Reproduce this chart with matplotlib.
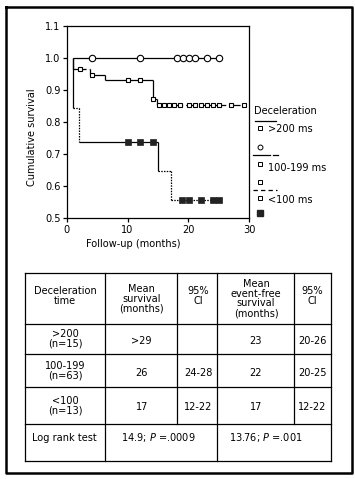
import matplotlib
matplotlib.use("Agg")
import matplotlib.pyplot as plt
import matplotlib.font_manager as fm

# pick a narrow sans if one is installed
fonts = [(f.name, f.stretch) for f in fm.fontManager.ttflist]
if any(n == 'Liberation Sans Narrow' for n, s in fonts):
    plt.rcParams['font.family'] = ['Liberation Sans Narrow', 'DejaVu Sans']
    FS = 8.5
elif any(n == 'DejaVu Sans' and 'condensed' in str(s) for n, s in fonts):
    plt.rcParams['font.family'] = ['DejaVu Sans']
    plt.rcParams['font.stretch'] = 'condensed'
    FS = 7.8
else:
    plt.rcParams['font.family'] = ['Liberation Sans', 'DejaVu Sans']
    FS = 8.0
plt.rcParams['mathtext.fontset'] = 'custom'
plt.rcParams['mathtext.rm'] = plt.rcParams['font.family'][0]
plt.rcParams['mathtext.it'] = plt.rcParams['font.family'][0] + ':italic'

# Kaplan-Meier step curves: step times (months) and survival after each step
gt200_t = [1.0, 25.0]
gt200_s = [1.0, 1.0]
mid_t = [1.0, 1.0, 3.9, 6.3, 14.1, 14.8, 29.1]
mid_s = [1.0, 0.966, 0.948, 0.931, 0.873, 0.853, 0.853]
low_t = [1.0, 1.0, 2.0, 15.0, 17.2, 25.2]
low_s = [1.0, 0.843, 0.739, 0.649, 0.557, 0.557]

# censored observations (months)
gt200_cens = [4.1, 12.1, 18.1, 19.1, 20.1, 21.0, 23.0, 25.0]
mid_cens = [2.2, 4.1, 10.0, 12.1, 14.1, 15.2, 16.0, 16.8, 17.7, 18.6,
            20.1, 21.1, 22.0, 23.0, 24.0, 25.0, 27.0, 29.1]
low_cens = [10.0, 12.1, 14.1, 19.0, 20.1, 22.0, 24.0, 25.0]

legend_title = "Deceleration"
legend_labels = [">200 ms", "100-199 ms", "<100 ms"]

x_ticks = [0, 10, 20, 30]
y_ticks = [0.5, 0.6, 0.7, 0.8, 0.9, 1.0, 1.1]

# table contents
table_header = ["Deceleration\ntime", "Mean\nsurvival\n(months)", "95%\nCI",
                "Mean\nevent-free\nsurvival\n(months)", "95%\nCI"]
table_groups = [">200\n(n=15)", "100-199\n(n=63)", "<100\n(n=13)"]
mean_survival = [">29", "26", "17"]
ci_survival = ["", "24-28", "12-22"]
mean_event_free = ["23", "22", "17"]
ci_event_free = ["20-26", "20-25", "12-22"]
logrank_label = "Log rank test"
logrank_survival = "14.9; $P$ =.0009"
logrank_event_free = "13.76; $P$ =.001"

# line styles per segment (horizontal, vertical alternating)
SOLID = '-'
DOT = (0, (1.2, 1.0))
DASH = (0, (4, 2.5))
gt200_styles = [SOLID, SOLID]
mid_styles = [SOLID, SOLID, DASH, SOLID, SOLID, SOLID, SOLID, SOLID,
              SOLID, SOLID, (0, (9, 2.5)), SOLID]
low_styles = [SOLID, SOLID, DOT, DOT, SOLID, SOLID, DOT, DOT, DOT, DOT]


def step_value(t, s, x):
    idx = max(i for i in range(len(t)) if t[i] <= x)
    return s[idx]


def draw_steps(ax, t, s, styles):
    k = 0
    for i in range(1, len(t)):
        ax.plot([t[i - 1], t[i]], [s[i - 1], s[i - 1]], color='black',
                lw=0.9, linestyle=styles[k], solid_capstyle='butt')
        ax.plot([t[i], t[i]], [s[i - 1], s[i]], color='black',
                lw=0.9, linestyle=styles[k + 1], solid_capstyle='butt')
        k += 2


W, H = 355, 479
fig = plt.figure(figsize=(W / 100, H / 100), dpi=100)
fig.patch.set_facecolor('white')

ax = fig.add_axes([66.7 / W, 1 - 218.3 / H, 182.6 / W, 192.3 / H])
draw_steps(ax, gt200_t, gt200_s, gt200_styles)
draw_steps(ax, mid_t, mid_s, mid_styles)
draw_steps(ax, low_t, low_s, low_styles)

ax.plot(gt200_cens, [step_value(gt200_t, gt200_s, x) for x in gt200_cens],
        'o', ms=4.6, mfc='white', mec='black', mew=0.8, zorder=5)
ax.plot(mid_cens, [step_value(mid_t, mid_s, x) for x in mid_cens],
        's', ms=3.2, mfc='white', mec='black', mew=0.8, zorder=5)
ax.plot(low_cens, [step_value(low_t, low_s, x) for x in low_cens],
        's', ms=4, mfc='#222222', mec='#222222', mew=0.5, zorder=5)

ax.set_xlim(0, 30)
ax.set_ylim(0.5, 1.1)
ax.set_xticks(x_ticks)
ax.set_yticks(y_ticks)
ax.set_yticklabels([f"{v:.1f}" for v in y_ticks])
ax.tick_params(direction='out', length=3, width=0.9, labelsize=FS, pad=1.5)
for sp in ax.spines.values():
    sp.set_linewidth(0.9)
ax.set_ylabel("Cumulative survival", fontsize=FS)
ax.yaxis.set_label_coords(-0.16, 0.42)
ax.set_xlabel("Follow-up (months)", fontsize=FS)
ax.xaxis.set_label_coords(0.366, -0.11)

# overlay in pixel coordinates for legend, table and frame
ov = fig.add_axes([0, 0, 1, 1])
ov.set_xlim(0, W)
ov.set_ylim(H, 0)
ov.axis('off')
ov.patch.set_alpha(0)

# outer frame
ov.plot([6, 352, 352, 6, 6], [7, 7, 473, 473, 7], color='black', lw=1.8)

# legend
ov.text(254, 111, legend_title, fontsize=FS, va='center', ha='left')
ov.plot([255, 276], [120.7, 120.7], color='black', lw=0.9)
ov.plot([253, 270], [155.3, 155.3], color='black', lw=0.9)
ov.plot([273, 278], [155.3, 155.3], color='black', lw=0.9)
ov.plot([253, 277], [190, 190], color='black', lw=0.9, linestyle=(0, (3.5, 2.5)))
for yl, yt, lab in zip([127.7, 163.7, 197.7], [129.5, 168, 200], legend_labels):
    ov.plot(260, yl, 's', ms=3, mfc='white', mec='black', mew=0.7)
    ov.text(268, yt, lab, fontsize=FS, va='center', ha='left')
ov.plot(260, 146.7, 'o', ms=3.5, mfc='white', mec='black', mew=0.7)
ov.plot(260, 182, 's', ms=3, mfc='white', mec='black', mew=0.7)
ov.plot(260, 213.3, 's', ms=3.8, mfc='#222222', mec='#222222')

# table grid
col_x = [25.3, 105.3, 177.3, 216.7, 294.3, 330.7]
row_y = [272.7, 324, 354.3, 387.3, 424.3, 460.7]
lw_t = 0.9
for y in row_y:
    ov.plot([col_x[0], col_x[-1]], [y, y], color='black', lw=lw_t)
for x in [col_x[0], col_x[1], col_x[3], col_x[5]]:
    ov.plot([x, x], [row_y[0], row_y[-1]], color='black', lw=lw_t)
for x in [col_x[2], col_x[4]]:
    ov.plot([x, x], [row_y[0], row_y[4]], color='black', lw=lw_t)

col_c = [65, 141.7, 198, 256, 312.5]
header_y = [296, 299, 296, 298.6, 296]
for x, y, txt in zip(col_c, header_y, table_header):
    ov.text(x, y, txt, fontsize=FS, ha='center', va='center', linespacing=0.95)

row_c = [338.5, 371, 405.5]
for i in range(3):
    yc = row_c[i]
    ov.text(col_c[0], yc, table_groups[i], fontsize=FS, ha='center',
            va='center', linespacing=0.95)
    cells = [mean_survival[i], ci_survival[i], mean_event_free[i], ci_event_free[i]]
    for x, txt in zip(col_c[1:], cells):
        ov.text(x, yc + 2, txt, fontsize=FS, ha='center', va='center')

ov.text(64, 438, logrank_label, fontsize=FS, ha='center', va='center')
ov.text(158, 438, logrank_survival, fontsize=FS, ha='center', va='center')
ov.text(266, 438, logrank_event_free, fontsize=FS, ha='center', va='center')

fig.savefig("out.png", dpi=100, facecolor='white')
